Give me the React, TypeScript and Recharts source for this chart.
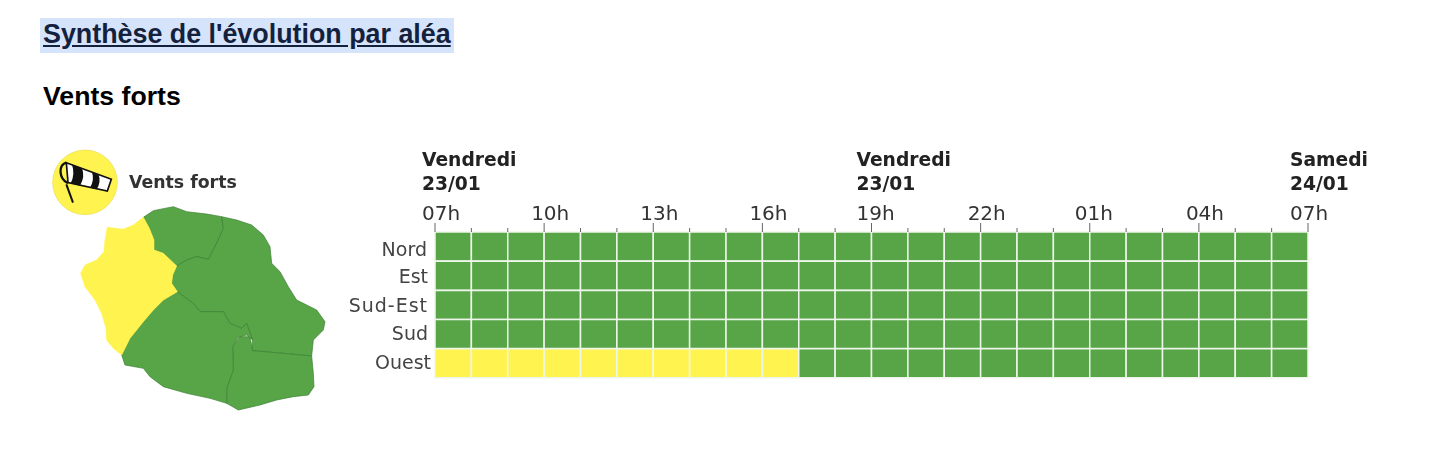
import { BarChart, Bar, Cell, XAxis, YAxis } from "recharts";

const ROWS = ["Nord", "Est", "Sud-Est", "Sud", "Ouest"];
const HOURS = ["07h", "08h", "09h", "10h", "11h", "12h", "13h", "14h", "15h", "16h", "17h", "18h", "19h", "20h", "21h", "22h", "23h", "00h", "01h", "02h", "03h", "04h", "05h", "06h", "07h"];
const TICKS = [0, 1, 2, 3, 4, 5, 6, 7, 8, 9, 10, 11, 12, 13, 14, 15, 16, 17, 18, 19, 20, 21, 22, 23, 24];
const DAY_LABELS: Record<number, string[]> = {
  0: ["Vendredi", "23/01"],
  12: ["Vendredi", "23/01"],
  24: ["Samedi", "24/01"],
};

// vigilance level per hour: 0 = vert, 1 = jaune
const NORD = [0, 0, 0, 0, 0, 0, 0, 0, 0, 0, 0, 0, 0, 0, 0, 0, 0, 0, 0, 0, 0, 0, 0, 0];
const EST = [0, 0, 0, 0, 0, 0, 0, 0, 0, 0, 0, 0, 0, 0, 0, 0, 0, 0, 0, 0, 0, 0, 0, 0];
const SUD_EST = [0, 0, 0, 0, 0, 0, 0, 0, 0, 0, 0, 0, 0, 0, 0, 0, 0, 0, 0, 0, 0, 0, 0, 0];
const SUD = [0, 0, 0, 0, 0, 0, 0, 0, 0, 0, 0, 0, 0, 0, 0, 0, 0, 0, 0, 0, 0, 0, 0, 0];
const OUEST = [1, 1, 1, 1, 1, 1, 1, 1, 1, 1, 0, 0, 0, 0, 0, 0, 0, 0, 0, 0, 0, 0, 0, 0];
const LEVELS = [NORD, EST, SUD_EST, SUD, OUEST];

const COLORS = ["#57a547", "#fff44f"];
const FONT = "'DejaVu Sans', sans-serif";

// the source labels are not evenly placed, nudges read off the picture
const HOUR_NUDGE: Record<number, number> = { 12: -2, 18: -2, 24: -5 };
const ROW_NUDGE: Record<string, { dx: number; dy: number; spacing: number }> = {
  Nord: { dx: -1, dy: 2, spacing: 0 },
  Est: { dx: 0, dy: 0, spacing: 0 },
  "Sud-Est": { dx: 0, dy: 0, spacing: 1 },
  Sud: { dx: 0, dy: -1, spacing: 0 },
  Ouest: { dx: 3, dy: -1, spacing: 0 },
};

const slots = HOURS.slice(0, 24).map((_, i) => i);
const data = ROWS.map((row) => {
  const entry: Record<string, string | number> = { row };
  slots.forEach((s) => {
    entry[`h${s}`] = 1;
  });
  return entry;
});

function HourTick({ x, y, payload }: any) {
  const i = payload.value as number;
  const major = i % 3 === 0;
  const day = DAY_LABELS[i];
  const tx = x - 13 + (HOUR_NUDGE[i] ?? 0);
  return (
    <g fontFamily={FONT}>
      <line x1={x} x2={x} y1={y} y2={y - (major ? 9 : 4)} stroke="#666" strokeWidth={1} />
      {major && (
        <text x={tx} y={y - 12} fontSize={20} fill="#333">
          {HOURS[i]}
        </text>
      )}
      {day && (
        <text x={tx} fontSize={18.7} fontWeight="bold" fill="#222">
          <tspan x={tx} y={y - 66}>{day[0]}</tspan>
          <tspan x={tx} y={y - 42}>{day[1]}</tspan>
        </text>
      )}
    </g>
  );
}

function RowTick({ x, y, payload }: any) {
  const nudge = ROW_NUDGE[payload.value];
  return (
    <text
      x={x + nudge.dx}
      y={y + 7 + nudge.dy}
      textAnchor="end"
      fontFamily={FONT}
      fontSize={19}
      letterSpacing={nudge.spacing}
      fill="#444"
    >
      {payload.value}
    </text>
  );
}

// illustration next to the grid, not data: La Réunion split in vigilance zones
const OUEST_ZONE = "M340 232 358 265 372 300 372 330 400 340 440 378 428 405 425 430 442 455 400 480 370 510 340 545 300 595 275 645 250 625 230 600 228 565 215 520 195 480 165 440 152 400 165 375 200 360 222 335 225 300 232 262 280 268 310 255Z";
const NORD_ZONE = "M340 232 370 212 430 200 470 215 530 222 575 230 580 265 560 310 535 358 500 350 470 360 440 378 400 340 372 330 372 300 358 265Z";
const EST_ZONE = "M575 230 620 240 665 255 700 285 720 320 725 370 750 395 775 440 800 480 860 510 885 545 880 570 850 600 845 648 760 640 665 632 668 600 650 550 635 565 600 550 580 515 510 515 490 490 442 455 425 430 428 405 440 378 470 360 500 350 535 358 560 310 580 265Z";
const SUD_ZONE = "M845 648 850 700 852 740 835 765 790 770 740 780 690 795 625 810 590 790 590 745 610 690 608 620 630 590 660 590 668 632 760 640Z";
const SUD_OUEST_ZONE = "M275 645 285 675 340 685 360 710 400 740 470 760 540 775 590 790 590 745 610 690 608 620 625 592 650 585 668 600 650 550 635 565 600 550 580 515 510 515 490 490 442 455 400 480 370 510 340 545 300 595Z";

function MapIllustration() {
  return (
    <svg
      width={310}
      height={280}
      viewBox="0 0 930 840"
      style={{ position: "absolute", left: 30, top: 140 }}
    >
      <circle cx={165} cy={127} r={97} fill="#fff44f" stroke="#e8dc50" strokeWidth={2} />
      <g>
        <path d="M109 68 244 118 232 153 114 128Z" fill="#fff" stroke="#111" strokeWidth={5} />
        <path d="M126 74 156 85Q166 110 150 137L122 130Q136 102 126 74Z" fill="#111" />
        <path d="M186 97 206 105Q214 125 200 148L180 143Q194 120 186 97Z" fill="#111" />
        <path d="M109 68C85 75 85 115 114 130" fill="none" stroke="#111" strokeWidth={7} />
        <line x1={109} y1={133} x2={129} y2={188} stroke="#111" strokeWidth={6} />
      </g>
      <text x={297} y={143} fontFamily={FONT} fontWeight="bold" fontSize={52} fill="#333">
        Vents forts
      </text>
      <g fill={COLORS[0]} stroke="#3a7d33" strokeWidth={2} strokeLinejoin="round">
        <path d={NORD_ZONE} />
        <path d={EST_ZONE} />
        <path d={SUD_ZONE} />
        <path d={SUD_OUEST_ZONE} />
      </g>
      <path d={OUEST_ZONE} fill={COLORS[1]} stroke={COLORS[1]} strokeWidth={2} strokeLinejoin="round" />
    </svg>
  );
}

export default function App() {
  return (
    <div style={{ position: "absolute", left: 0, top: 0, width: 1436, height: 476, background: "#fff", overflow: "hidden" }}>
      <div
        style={{
          position: "absolute",
          left: 40,
          top: 18,
          width: 414,
          height: 35,
          background: "#d5e3fb",
        }}
      />
      <div
        style={{
          position: "absolute",
          left: 43,
          top: 18,
          fontFamily: "'Liberation Sans', sans-serif",
          fontWeight: "bold",
          fontSize: 26.85,
          lineHeight: "33px",
          color: "#14213d",
          textDecoration: "underline",
          whiteSpace: "nowrap",
        }}
      >
        Synthèse de l'évolution par aléa
      </div>
      <div
        style={{
          position: "absolute",
          left: 43,
          top: 80,
          fontFamily: "'Liberation Sans', sans-serif",
          fontWeight: "bold",
          fontSize: 26.67,
          lineHeight: "33px",
          color: "#000",
          whiteSpace: "nowrap",
        }}
      >
        Vents forts
      </div>
      <div style={{ position: "absolute", left: 0, top: 0, filter: "blur(0.4px)" }}>
        <MapIllustration />
        <BarChart
          width={1436}
          height={476}
          data={data}
          layout="vertical"
          barCategoryGap={0}
          margin={{ top: 150, right: 128, bottom: 98, left: 375 }}
        >
          <XAxis
            type="number"
            orientation="top"
            domain={[0, 24]}
            ticks={TICKS}
            interval={0}
            height={82}
            axisLine={false}
            tickLine={false}
            tickSize={0}
            tickMargin={0}
            tick={<HourTick />}
          />
          <YAxis
            type="category"
            dataKey="row"
            width={60}
            interval={0}
            axisLine={false}
            tickLine={false}
            tickSize={0}
            tickMargin={7}
            tick={<RowTick />}
          />
          {slots.map((s) => (
            <Bar
              key={s}
              dataKey={`h${s}`}
              stackId="hours"
              stroke="#eef6ec"
              strokeWidth={1.5}
              isAnimationActive={false}
            >
              {ROWS.map((row, r) => (
                <Cell key={row} fill={COLORS[LEVELS[r][s]]} />
              ))}
            </Bar>
          ))}
        </BarChart>
      </div>
    </div>
  );
}
